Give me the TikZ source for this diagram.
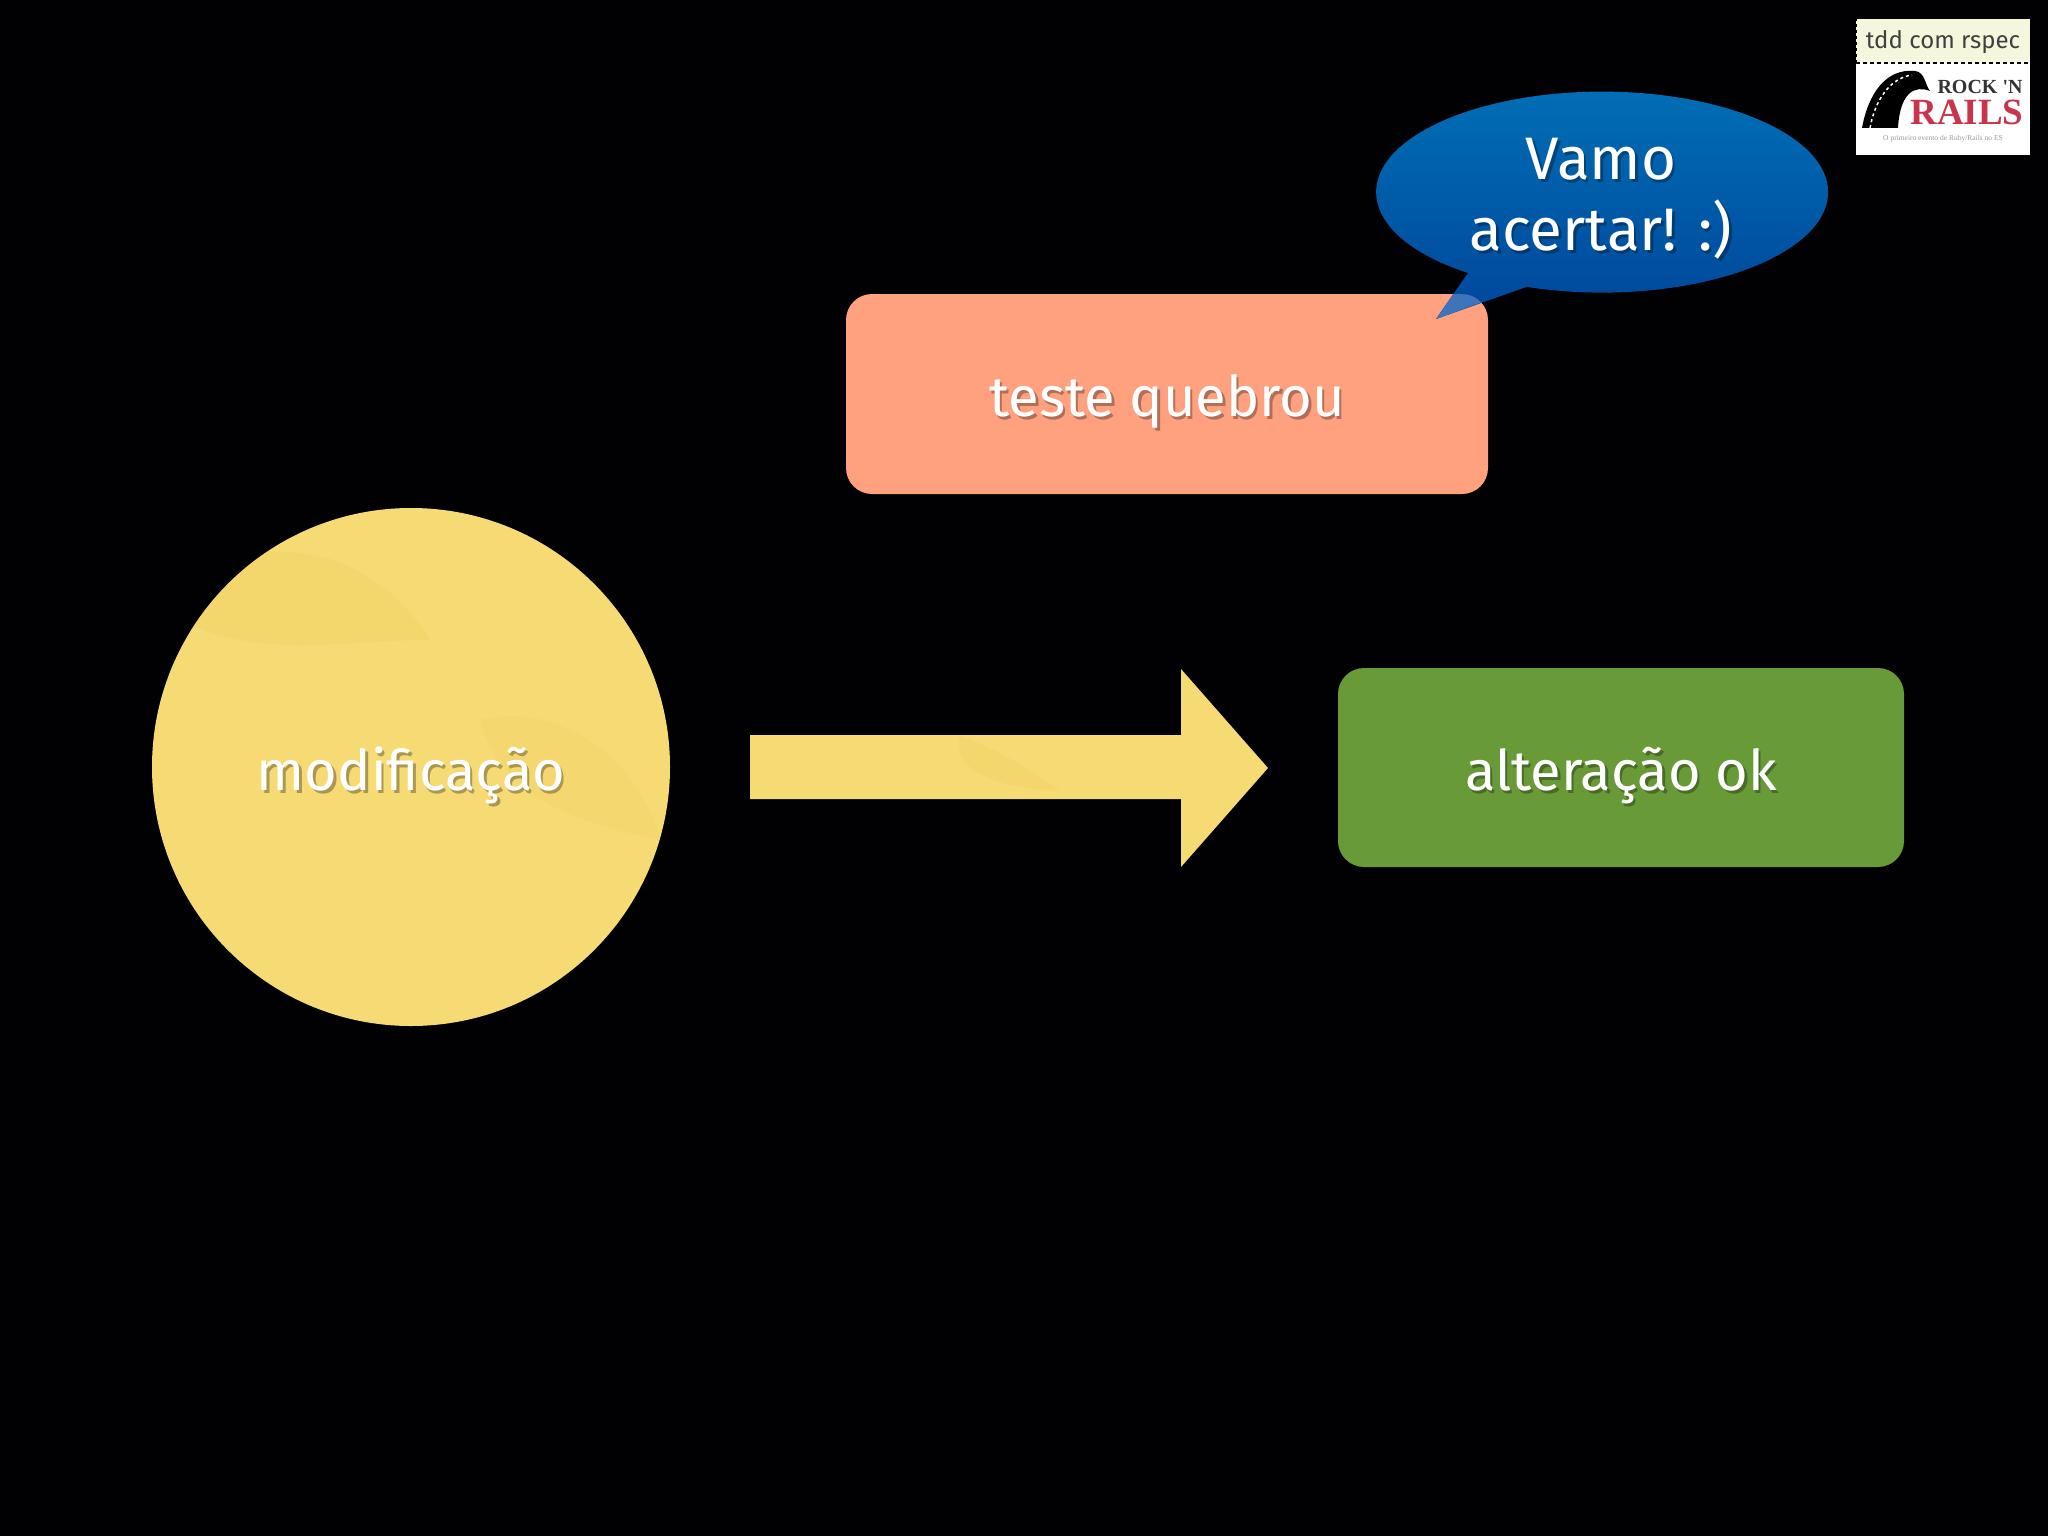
\documentclass[tikz,border=0pt]{standalone}
\usepackage{fontspec}
\setmainfont{Fira Sans}
\newfontfamily\logoserif{Liberation Serif}
\usetikzlibrary{shapes.geometric,fadings,shadings}
\definecolor{pagebg}{HTML}{010103}
\definecolor{sandy}{HTML}{F6DA74}
\definecolor{sandydark}{HTML}{EFCF5E}
\definecolor{salmon}{HTML}{FFA07F}
\definecolor{leaf}{HTML}{699A38}
\definecolor{bubtop}{HTML}{0070B6}
\definecolor{bubbot}{HTML}{00469A}
\definecolor{bubover}{HTML}{3D74BC}
\definecolor{tagbg}{HTML}{F4F7DC}
\definecolor{logored}{HTML}{C8344A}
\newcommand{\shadowlabel}[4]{% name, baseline position, size, text
  \node[labeltext,text=black,opacity=.3,font=\fontsize{#3}{#3}\selectfont] at ([shift={(2.5,3.5)}]#2) {#4};
  \node[labeltext,font=\fontsize{#3}{#3}\selectfont] (#1) at (#2) {#4};}
\tikzset{
  labeltext/.style={text=white,anchor=base,inner sep=0pt},
}
\begin{document}
\begin{tikzpicture}[x=1pt,y=-1pt]
\useasboundingbox (0,0) rectangle (2048,1536);
\fill[pagebg] (0,0) rectangle (2048,1536);
% circle
\fill[sandy] (411,767) circle[radius=259pt];
\begin{scope}
\clip (411,767) circle[radius=259pt];
\fill[sandydark,opacity=.35] (230,560) .. controls (330,530) and (400,590) .. (430,640) .. controls (340,640) and (260,660) .. (180,620) -- cycle;
\fill[sandydark,opacity=.2] (480,720) .. controls (560,700) and (640,760) .. (660,840) .. controls (560,820) and (500,790) .. (480,720) -- cycle;
\end{scope}
% arrow
\fill[sandy] (750,735) -- (1181,735) -- (1181,669) -- (1268,768) -- (1181,867) -- (1181,799) -- (750,799) -- cycle;
\fill[sandydark,opacity=.35] (960,736) .. controls (1000,750) and (1030,770) .. (1060,790) .. controls (1000,790) and (950,770) .. (960,736) -- cycle;
% boxes
\fill[salmon,rounded corners=26pt] (846,294) rectangle (1488,494);
\fill[leaf,rounded corners=26pt] (1338,668) rectangle (1904,867);
% bubble
\shade[top color=bubtop,bottom color=bubbot]
  (1468,273) arc[start angle=233.6,end angle=-109.5,x radius=226pt,y radius=100.5pt] -- (1436,319) -- cycle;
\begin{scope}
\clip[rounded corners=26pt] (846,294) rectangle (1488,494);
\fill[bubover] (1468,273) -- (1436,319) -- (1523,287) -- cycle;
\end{scope}
% labels
\shadowlabel{lblmod}{411,790}{56}{modificação}
\shadowlabel{lblteste}{1167,416}{56}{teste quebrou}
\shadowlabel{lblok}{1621,790}{56}{alteração ok}
\shadowlabel{lblvamo}{1601,179}{60}{Vamo}
\shadowlabel{lblacertar}{1601,250}{60}{acertar! :)}
% tag
\fill[white] (1856,63) rectangle (2030,155);
\fill[tagbg] (1856,19) rectangle (2030,63);
\draw[black,line width=1.5pt,dash pattern=on 4pt off 3pt] (1856,63) -- (2030,63);
\draw[pagebg,dash pattern=on 3pt off 3pt,line width=1pt] (1856,19) -- (2030,19) -- (2030,63) (1856,63) -- (1856,19);
\node[text=black!75,inner sep=0pt,font=\fontsize{24}{28}\selectfont] (tag) at (1943,42) {tdd com rspec};
% logo arch
\fill[black] (1862,128) .. controls (1868,95) and (1885,68) .. (1915,71) .. controls (1925,72) and (1925,85) .. (1930,91) .. controls (1915,85) and (1900,92) .. (1898,128) -- (1885,128) -- cycle;
\draw[white,line width=1.5pt,dash pattern=on 3pt off 3pt] (1870,128) .. controls (1875,100) and (1890,78) .. (1912,75);
\node[inner sep=0pt,text=black!80,font=\logoserif\bfseries\fontsize{20}{22}\selectfont] (rock) at (1980,87) {ROCK 'N};
\node[inner sep=0pt,text=logored,font=\logoserif\bfseries\fontsize{37}{40}\selectfont] (rails) at (1967,112) {RAILS};
\node[inner sep=0pt,text=black!40,font=\logoserif\fontsize{7.5}{9}\selectfont] (tagline) at (1943,139) {O primeiro evento de Ruby/Rails no ES};
\end{tikzpicture}
\end{document}
